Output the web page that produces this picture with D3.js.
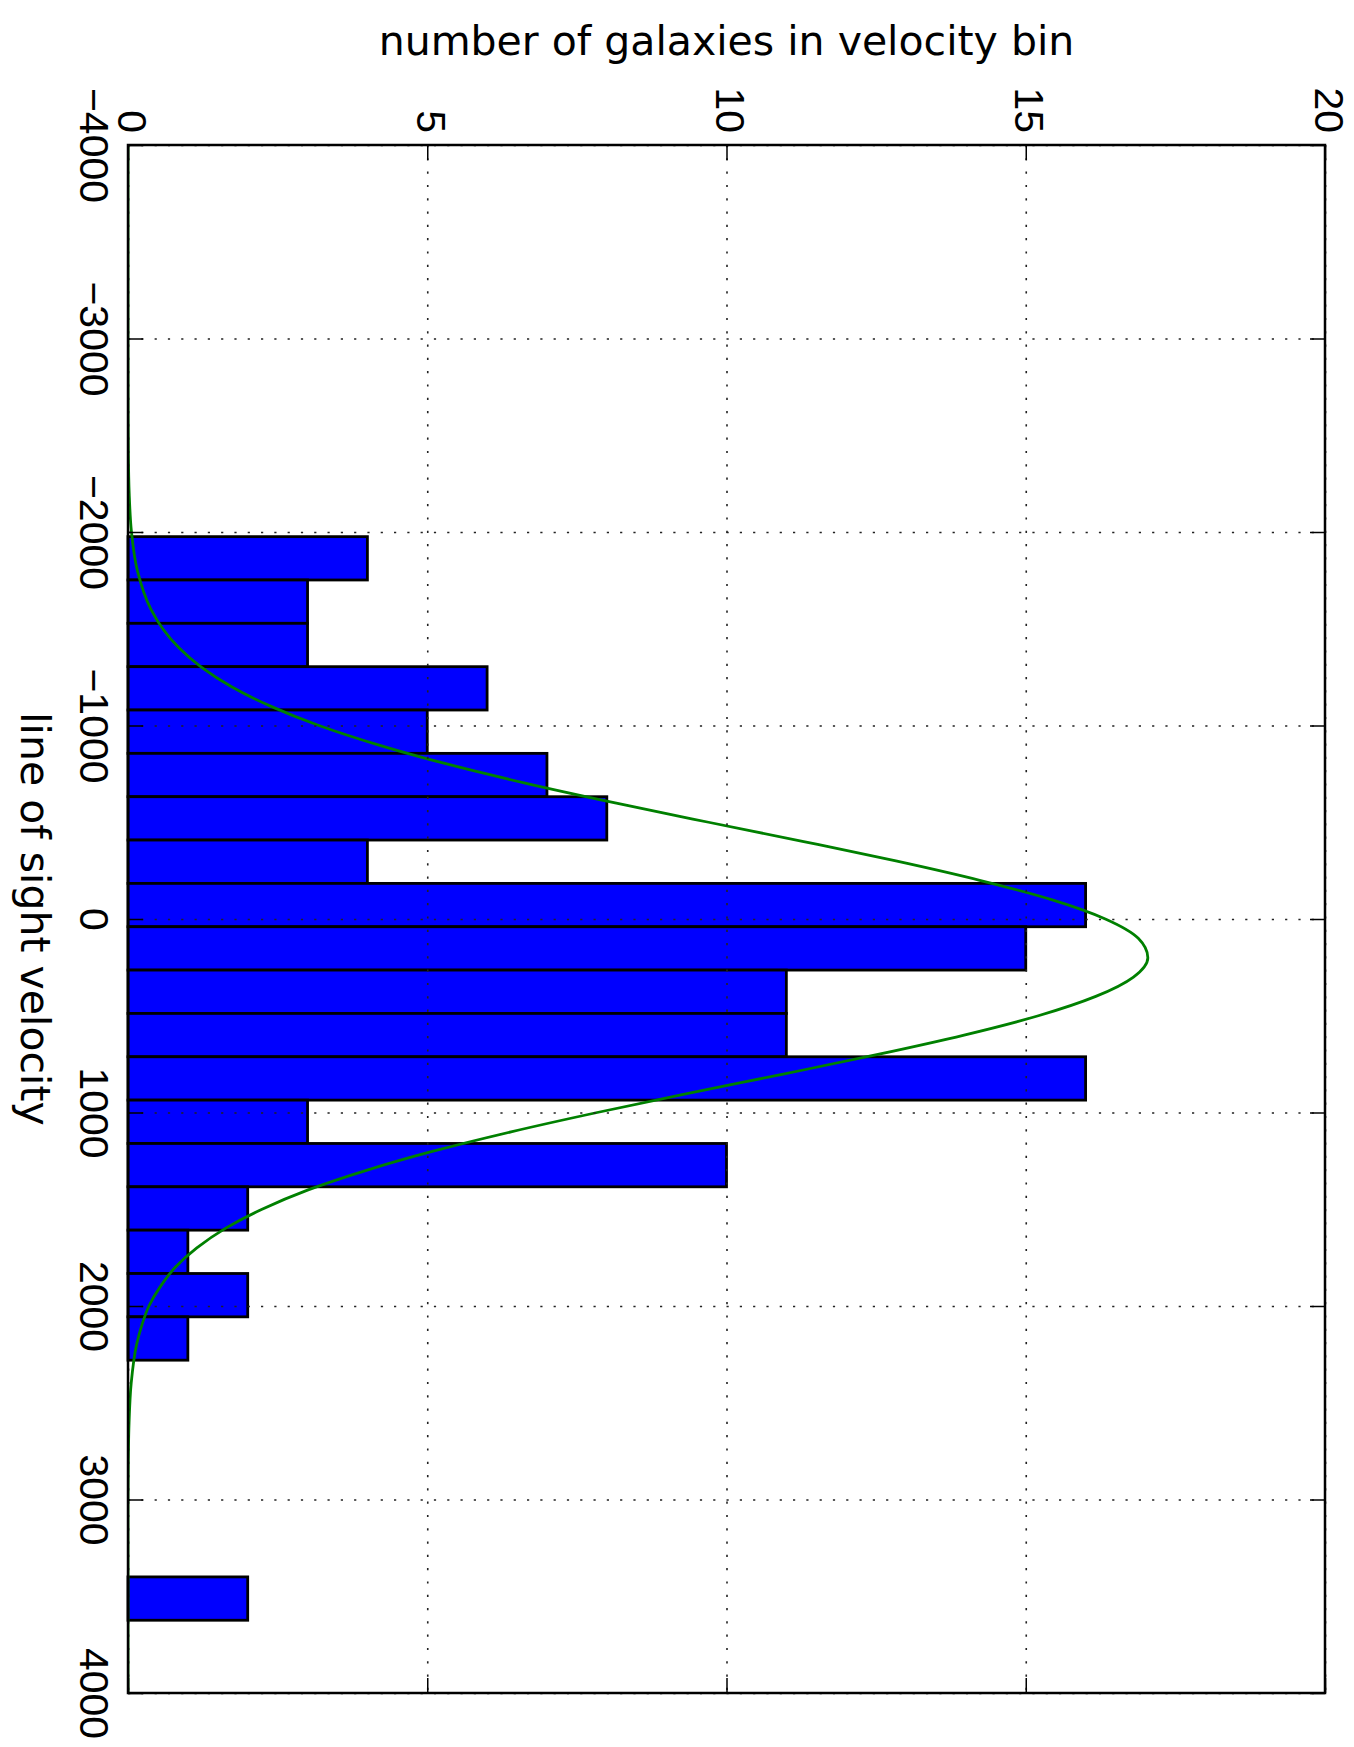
<!DOCTYPE html>
<meta charset="utf-8">
<style>
body { margin: 0; background: #fff; }
svg { font-family: "DejaVu Sans", sans-serif; }
.tick text { font-size: 41px; fill: #000; }
.grid line { stroke: #222; stroke-width: 1.6; stroke-dasharray: 2.2, 11.1; }
.ticks line { stroke: #000; stroke-width: 1.5; }
</style>
<body>
<div id="chart"></div>
<script src="https://d3js.org/d3.v7.min.js"></script>
<script>

// histogram bin edges (line of sight velocity) and galaxy counts per bin
var binEdges = [-1976, -1752, -1528, -1304, -1080, -856, -632, -408, -184, 40, 264, 488,
                712, 936, 1160, 1384, 1608, 1832, 2056, 2280, 2504, 2728, 2952, 3176, 3400, 3624];
var counts = [4, 3, 3, 6, 5, 7, 8, 4, 16, 15, 11, 11, 16, 3, 10, 2, 1, 2, 1, 0, 0, 0, 0, 0, 2];

// fitted curve
var fitVelocity = [-4000, -3000, -2600, -2400, -2200, -2000, -1800, -1600, -1500, -1400, -1300, -1200,
                   -1100, -1000, -900, -800, -700, -600, -500, -400, -300, -200, -100, 0, 100, 200, 300,
                   400, 500, 600, 700, 800, 900, 1000, 1100, 1200, 1300, 1400, 1500, 1600, 1700, 1800,
                   1900, 2000, 2100, 2200, 2400, 2600, 2800, 3000, 4000];
var fitCount = [0, 0, 0.002, 0.006, 0.02, 0.058, 0.157, 0.384, 0.58, 0.855, 1.23, 1.73,
                2.38, 3.19, 4.18, 5.34, 6.67, 8.14, 9.70, 11.29, 12.83, 14.23, 15.43, 16.33, 16.88, 17.04, 16.80,
                16.17, 15.21, 13.97, 12.53, 10.97, 9.38, 7.84, 6.40, 5.10, 3.97, 3.01, 2.24, 1.62, 1.15, 0.79,
                0.54, 0.35, 0.23, 0.143, 0.053, 0.018, 0.005, 0, 0];

var countTicks = [0, 5, 10, 15, 20];
var velocityTicks = [-4000, -3000, -2000, -1000, 0, 1000, 2000, 3000, 4000];

var width = 1354, height = 1747,
    plot = {left: 128, right: 1325, top: 145, bottom: 1693};

var svg = d3.select("#chart").append("svg")
    .attr("width", width)
    .attr("height", height);

var x = d3.scaleLinear().domain([0, 20]).range([plot.left, plot.right]);
var y = d3.scaleLinear().domain([-4000, 4000]).range([plot.top, plot.bottom]);

svg.append("defs").append("clipPath").attr("id", "clip")
  .append("rect")
    .attr("x", plot.left).attr("y", plot.top)
    .attr("width", plot.right - plot.left).attr("height", plot.bottom - plot.top);

// bars
svg.append("g").selectAll("rect")
  .data(counts)
  .enter().append("rect")
    .attr("x", x(0))
    .attr("y", (d, i) => y(binEdges[i]))
    .attr("width", d => x(d) - x(0))
    .attr("height", (d, i) => y(binEdges[i + 1]) - y(binEdges[i]))
    .style("fill", "#0000ff")
    .style("stroke", "#000")
    .style("stroke-width", 2.8);

// fitted curve
var line = d3.line()
    .x(d => x(d[1]))
    .y(d => y(d[0]))
    .curve(d3.curveMonotoneY);

svg.append("path")
    .datum(fitVelocity.map((v, i) => [v, fitCount[i]]))
    .attr("clip-path", "url(#clip)")
    .attr("d", line)
    .style("fill", "none")
    .style("stroke", "#008000")
    .style("stroke-width", 2.8);

// dotted grid
svg.append("g")
    .attr("class", "grid")
    .attr("transform", `translate(0,${plot.top})`)
    .call(d3.axisTop(x).tickValues(countTicks).tickSize(-(plot.bottom - plot.top)).tickFormat(""))
    .call(g => g.select(".domain").remove());

svg.append("g")
    .attr("class", "grid")
    .attr("transform", `translate(${plot.left},0)`)
    .call(d3.axisLeft(y).tickValues(velocityTicks).tickSize(-(plot.right - plot.left)).tickFormat(""))
    .call(g => g.select(".domain").remove());

// count axis on top, ticks inward, labels rotated
svg.append("g")
    .attr("class", "ticks")
    .attr("transform", `translate(0,${plot.top})`)
    .call(d3.axisTop(x).tickValues(countTicks).tickSize(-15).tickFormat(d3.format("d")))
    .call(g => g.select(".domain").remove())
  .selectAll("text")
    .attr("x", 0).attr("y", 0).attr("dy", 0)
    .style("text-anchor", "end")
    .attr("transform", "translate(-11,-12) rotate(90)");

svg.append("g")
    .attr("class", "ticks")
    .attr("transform", `translate(0,${plot.bottom})`)
    .call(d3.axisBottom(x).tickValues(countTicks).tickSize(-15).tickFormat(""))
    .call(g => g.select(".domain").remove());

// velocity axis on the left
svg.append("g")
    .attr("class", "ticks")
    .attr("transform", `translate(${plot.left},0)`)
    .call(d3.axisLeft(y).tickValues(velocityTicks).tickSize(-15).tickFormat(d3.format("d")))
    .call(g => g.select(".domain").remove())
  .selectAll("text")
    .attr("x", 0).attr("y", 0).attr("dy", 0)
    .style("text-anchor", "middle")
    .attr("transform", `translate(${80 - plot.left},0) rotate(90)`);

svg.append("g")
    .attr("class", "ticks")
    .attr("transform", `translate(${plot.right},0)`)
    .call(d3.axisRight(y).tickValues(velocityTicks).tickSize(-15).tickFormat(""))
    .call(g => g.select(".domain").remove());

// frame
svg.append("rect")
    .attr("x", plot.left).attr("y", plot.top)
    .attr("width", plot.right - plot.left).attr("height", plot.bottom - plot.top)
    .style("fill", "none")
    .style("stroke", "#000")
    .style("stroke-width", 2.5);

// axis labels
svg.append("text")
    .attr("x", (plot.left + plot.right) / 2)
    .attr("y", 55)
    .style("text-anchor", "middle")
    .style("font-size", "41px")
    .text("number of galaxies in velocity bin");

svg.append("text")
    .attr("transform", `translate(21,${(plot.top + plot.bottom) / 2}) rotate(90)`)
    .style("text-anchor", "middle")
    .style("font-size", "41px")
    .text("line of sight velocity");

</script>
</body>
